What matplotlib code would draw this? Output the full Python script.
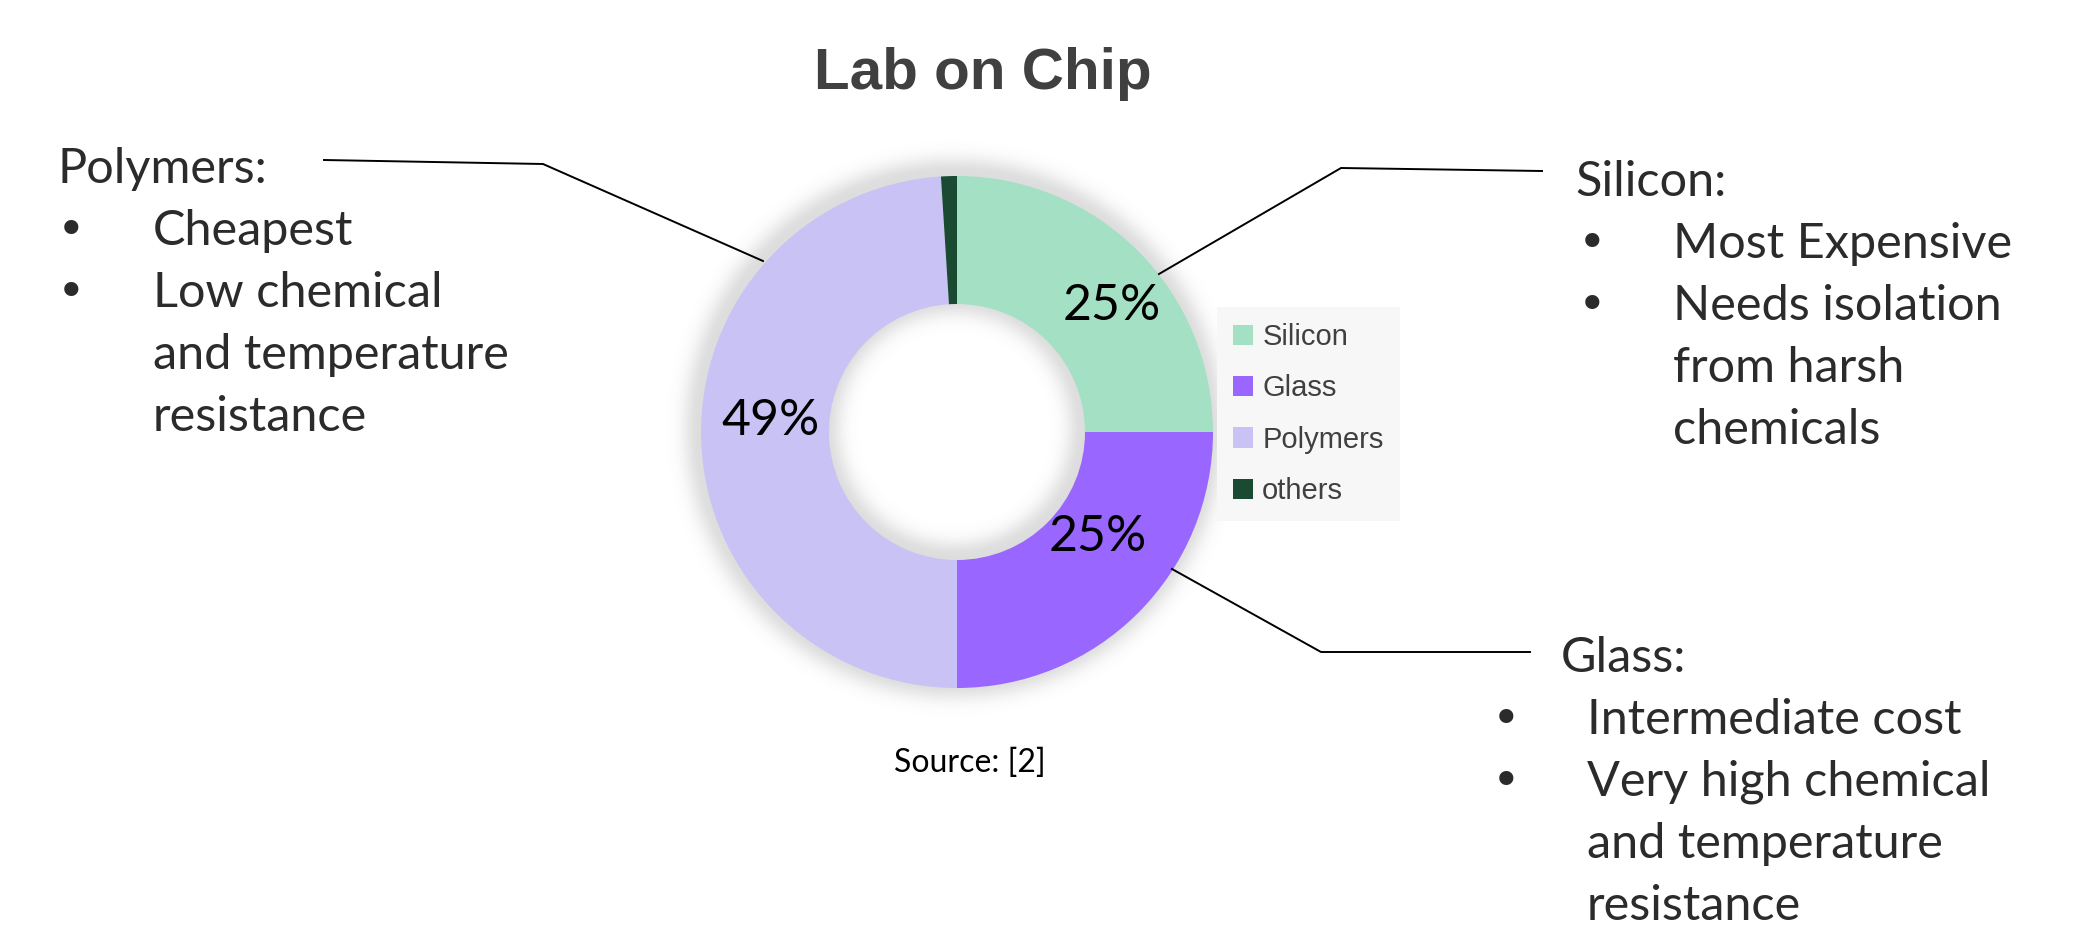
import numpy as np
import matplotlib
matplotlib.use('Agg')
import matplotlib.pyplot as plt
from matplotlib import font_manager

# Material shares in lab-on-chip devices
materials = ['Silicon', 'Glass', 'Polymers', 'others']
shares = [25, 25, 49, 1]
colors = ['#A4E0C4', '#9966FF', '#C8C3F4', '#1B4A33']

notes = {
    'Polymers': ['Cheapest', 'Low chemical', 'and temperature', 'resistance'],
    'Silicon': ['Most Expensive', 'Needs isolation', 'from harsh', 'chemicals'],
    'Glass': ['Intermediate cost', 'Very high chemical', 'and temperature', 'resistance'],
}
# which note lines start with a bullet
bullets = {
    'Polymers': [True, True, False, False],
    'Silicon': [True, True, False, False],
    'Glass': [True, True, False, False],
}

W, H = 2075, 944
fig = plt.figure(figsize=(W / 100, H / 100), dpi=100)
ax = fig.add_axes([0, 0, 1, 1])

names = {f.name for f in font_manager.fontManager.ttflist}
note_font = 'Lato' if 'Lato' in names else 'DejaVu Sans'
head_font = 'Liberation Sans' if 'Liberation Sans' in names else 'DejaVu Sans'

cx, cy = 957, H - 432
R, ring = 256, 0.5

# soft shadow around the ring
gx, gy = np.meshgrid(np.arange(cx - 330, cx + 330), np.arange(cy - 330, cy + 330))
rr = np.hypot(gx - cx + 3, gy - cy - 3)
sig = 16.0
outer = np.where(rr > R, np.exp(-((rr - R) / sig) ** 2), 1.0)
inner = np.where(rr < R * ring, np.exp(-((R * ring - rr) / sig) ** 2), 0.0)
shade = np.where(rr < R * ring, inner, outer) * 0.22
rgba = np.zeros(shade.shape + (4,))
rgba[..., :3] = 0.4
rgba[..., 3] = shade
ax.imshow(rgba, extent=(cx - 330, cx + 330, cy - 330, cy + 330), origin='lower',
          zorder=1, interpolation='bilinear')

wedges, _, autotexts = ax.pie(
    shares, colors=colors, startangle=90, counterclock=False,
    center=(cx, cy), radius=R, frame=True,
    wedgeprops=dict(width=R * (1 - ring), linewidth=0),
    autopct=lambda p: f'{p:.0f}%' if p >= 2 else '',
    pctdistance=0.76,
    textprops=dict(fontsize=36, family=note_font, color='black'))
for w in wedges:
    w.set_zorder(2)
ax.set_xlim(0, W)
ax.set_ylim(0, H)
ax.set_aspect('auto')
ax.axis('off')

# nudge percentage labels
label_pos = [(1112, 306), (1098, 537), (771, 421)]
for t, (px, py) in zip(autotexts, label_pos):
    t.set_position((px, H - py))
    t.set_zorder(3)

ax.text(983, H - 89, 'Lab on Chip', ha='center', va='baseline',
        fontsize=42, fontweight='bold', family=head_font, color='#404040')

leg = ax.legend(wedges, materials, loc='upper left',
                bbox_to_anchor=(1217 / W, 1 - 307 / H), bbox_transform=fig.transFigure,
                frameon=True, fancybox=False, framealpha=1,
                facecolor='#F7F7F7', edgecolor='none',
                prop=dict(family=head_font, size=21),
                handlelength=0.7, handleheight=0.7, handletextpad=0.3,
                labelspacing=0.8, borderpad=0.55, borderaxespad=0)
for t in leg.get_texts():
    t.set_color('#404040')

ax.text(970, H - 772, 'Source: [2]', ha='center', va='baseline',
        fontsize=23, family=note_font, color='black')


def note_block(name, x_head, y_head, x_dot, x_txt, step=62):
    ax.text(x_head, H - y_head, name + ':', ha='left', va='baseline',
            fontsize=35, family=note_font, color='#2B2B2B')
    for i, (line, b) in enumerate(zip(notes[name], bullets[name])):
        y = H - (y_head + step * (i + 1))
        if b:
            ax.text(x_dot, y, '\u2022', ha='left', va='baseline', fontsize=35,
                    family='DejaVu Sans', color='#2B2B2B')
        ax.text(x_txt, y, line, ha='left', va='baseline', fontsize=35,
                family=note_font, color='#2B2B2B')


note_block('Polymers', 57, 183, 57, 153)
note_block('Silicon', 1575, 196, 1578, 1673)
note_block('Glass', 1561, 672, 1492, 1587)

# leader lines from each note to its ring segment
leaders = [
    [(324, 160), (543, 164), (763, 261)],
    [(1542, 171), (1341, 168), (1159, 274)],
    [(1530, 652), (1321, 652), (1172, 569)],
]
for pts in leaders:
    xs = [p[0] for p in pts]
    ys = [H - p[1] for p in pts]
    ax.plot(xs, ys, color='black', linewidth=1.4, zorder=4)

fig.savefig('out.png', dpi=100, facecolor='white')
